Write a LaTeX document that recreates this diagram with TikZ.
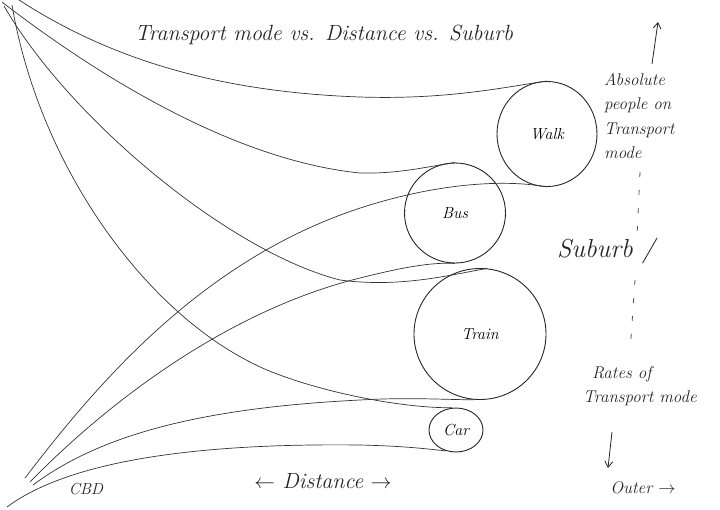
\documentclass[tikz,border=0pt]{standalone}
\usetikzlibrary{shapes.geometric,arrows.meta}
\begin{document}
\begin{tikzpicture}[x=1pt,y=-1pt,
  pen/.style={draw=black!80,line width=0.7pt},
  bubble/.style={ellipse,draw=black!85,line width=0.9pt,inner sep=0pt,font=\itshape\fontsize{16}{18}\selectfont},
  hand/.style={font=\itshape\fontsize{#1}{#1}\selectfont,text=black!85,inner sep=0pt},
  handbox/.style={font=\itshape\fontsize{17}{24.5}\selectfont,text=black!85,inner sep=0pt,align=left},
  tip/.style={-{Straight Barb[length=6pt,width=8pt]},draw=black!85,line width=0.8pt},
  dotline/.style={draw=black!70,line width=0.8pt,dash pattern=on 5pt off 13pt}]
\useasboundingbox[fill=white] (0,0) rectangle (720,509);

% bubbles
\node[bubble,minimum width=100pt,minimum height=105pt] (walk) at (547,134) {Walk};
\node[bubble,minimum width=101pt,minimum height=100pt] (bus) at (455,213) {Bus};
\node[bubble,minimum width=132pt,minimum height=131pt] (train) at (480,334) {Train};
\node[bubble,minimum width=54pt,minimum height=44pt] (car) at (456,430) {Car};

% origins
\coordinate (o1) at (16,-2);
\coordinate (o2) at (2,2);
\coordinate (o3) at (4,6);
\coordinate (o4) at (12,5);
\coordinate (c1) at (25,478);
\coordinate (c2) at (30,482);
\coordinate (c3) at (33,485);
\coordinate (c4) at (7,507);

% curves from the top-left corner
\draw[pen] (o1) .. controls (110,60) and (220,92) .. (360,97) .. controls (450,100) and (510,86) .. (walk.north);
\draw[pen] (o2) .. controls (90,70) and (230,160) .. (360,173) .. controls (400,174) and (430,166) .. (bus.north);
\draw[pen] (o3) .. controls (70,120) and (230,252) .. (340,280) .. controls (400,288) and (450,275) .. (train.84);
\draw[pen] (o4) .. controls (40,170) and (150,320) .. (267,370) .. controls (320,392) and (400,408) .. (car.100);

% curves from the CBD
\draw[pen] (c1) .. controls (100,380) and (210,250) .. (380,202) .. controls (450,182) and (510,180) .. (walk.south);
\draw[pen] (c2) .. controls (110,400) and (230,310) .. (360,278) .. controls (400,268) and (430,262) .. (bus.south);
\draw[pen] (c3) .. controls (100,435) and (200,408) .. (360,400) .. controls (410,397) and (450,400) .. (train.265);
\draw[pen] (c4) .. controls (70,460) and (200,443) .. (360,445) .. controls (400,446) and (420,448) .. (car.245);

% title
\node[hand=22] (title) at (324,35) {Transport mode vs. Distance vs. Suburb};

% right-hand axis
\node[handbox,anchor=north west] (abs) at (604,73) {Absolute\\people on\\Transport\\mode};
\coordinate (upb) at (652,64);
\coordinate (upt) at (658,22);
\draw[tip] (upb) -- (upt);
\coordinate (d1a) at (640,172);
\coordinate (d1b) at (637,236);
\draw[dotline] (d1a) -- (d1b);
\node[hand=26] (suburb) at (606,251) {Suburb /};
\coordinate (d2a) at (635,280);
\coordinate (d2b) at (630,352);
\draw[dotline] (d2a) -- (d2b);
\node[handbox,anchor=north west] (rates) at (583,366) {\hspace*{9pt}Rates of\\Transport mode};
\coordinate (dnb) at (612,432);
\coordinate (dnt) at (608,468);
\draw[tip] (dnb) -- (dnt);
\node[hand=17] (outer) at (643,488) {Outer $\rightarrow$};

% bottom labels
\node[hand=16] (cbd) at (86,489) {CBD};
\node[hand=22] (dist) at (323,481) {$\leftarrow$ Distance $\rightarrow$};
\end{tikzpicture}
\end{document}
